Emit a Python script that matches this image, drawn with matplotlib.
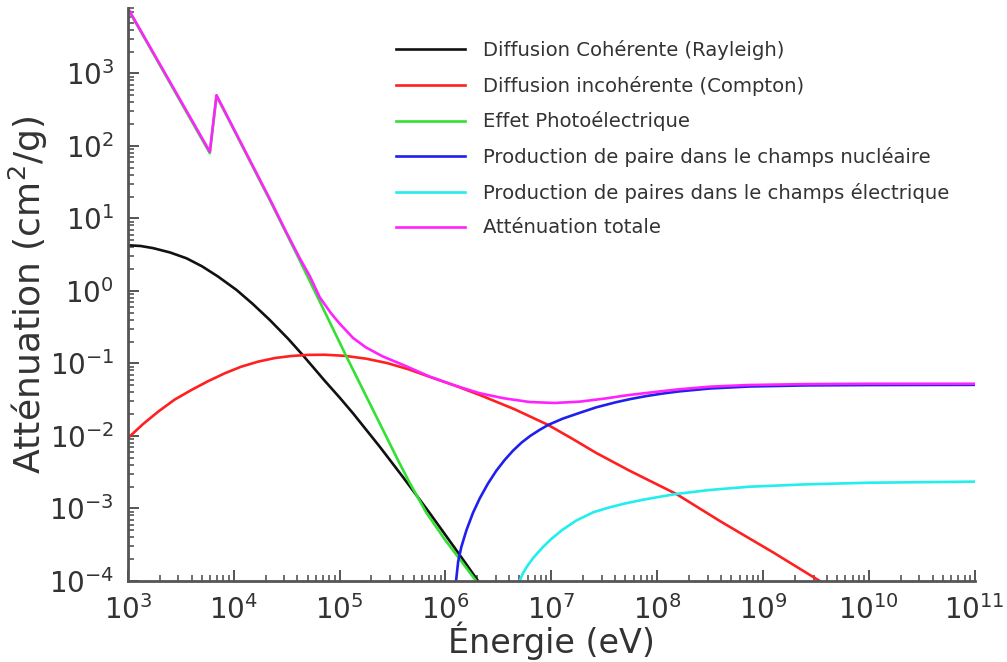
import numpy as np
import matplotlib.pyplot as plt

plt.rcParams["axes.unicode_minus"] = False

# log10 of photon energy (eV) and log10 of mass attenuation (cm^2/g)
rayleigh_logE = [3.0, 3.12, 3.24, 3.4, 3.554, 3.7, 3.85, 4.026, 4.18, 4.34, 4.514, 4.655,
                 4.86, 5.0, 5.128, 5.38, 5.6, 5.852, 6.1, 6.308]
rayleigh_logmu = [0.63, 0.62, 0.59, 0.53, 0.45, 0.34, 0.20, 0.014, -0.18, -0.40, -0.66, -0.89,
                  -1.24, -1.47, -1.69, -2.15, -2.57, -3.066, -3.57, -4.0]

compton_logE = [3.0, 3.14, 3.286, 3.44, 3.6, 3.75, 3.916, 4.07, 4.23, 4.39, 4.546, 4.7, 4.86,
                5.05, 5.254, 5.45, 5.65, 5.852, 6.08, 6.324, 6.65, 6.97, 7.2, 7.425, 7.74,
                8.18, 8.6, 9.1, 9.535]
compton_logmu = [-2.03, -1.84, -1.665, -1.50, -1.366, -1.25, -1.135, -1.045, -0.975, -0.925,
                 -0.897, -0.882, -0.880, -0.895, -0.935, -0.995, -1.08, -1.185, -1.30, -1.435,
                 -1.63, -1.848, -2.04, -2.235, -2.48, -2.80, -3.18, -3.61, -4.0]

photo_logE = [3.0, 3.774, 3.837, 4.34, 4.624, 5.065, 5.38, 5.55, 5.663, 5.82, 6.0, 6.135, 6.29]
photo_logmu = [3.89, 1.90, 2.69, 1.255, 0.42, -0.906, -1.83, -2.33, -2.65, -3.06, -3.44,
               -3.70, -4.0]

nuclear_logE = [6.10, 6.12, 6.15, 6.198, 6.26, 6.324, 6.40, 6.48, 6.56, 6.64, 6.72, 6.80,
                6.885, 6.97, 7.11, 7.27, 7.425, 7.61, 7.75, 7.897, 8.05, 8.21, 8.5, 8.87,
                9.4, 10.0, 11.0]
nuclear_logmu = [-4.0, -3.73, -3.53, -3.30, -3.06, -2.86, -2.66, -2.48, -2.33, -2.20, -2.09,
                 -2.00, -1.92, -1.848, -1.76, -1.68, -1.605, -1.535, -1.49, -1.45, -1.415,
                 -1.385, -1.345, -1.318, -1.303, -1.298, -1.295]

electron_logE = [6.70, 6.73, 6.77, 6.83, 6.922, 7.0, 7.1, 7.237, 7.4, 7.55, 7.7, 7.866, 8.0,
                 8.18, 8.496, 8.87, 9.4, 10.0, 11.0]
electron_logmu = [-4.0, -3.90, -3.80, -3.68, -3.53, -3.42, -3.30, -3.165, -3.05, -2.985, -2.93,
                  -2.88, -2.845, -2.80, -2.745, -2.70, -2.668, -2.645, -2.63]

total_logE = [3.0, 3.774, 3.837, 4.34, 4.5, 4.624, 4.72, 4.813, 4.92, 5.0, 5.128, 5.25, 5.41,
              5.6, 5.852, 6.08, 6.324, 6.55, 6.796, 7.03, 7.268, 7.5, 7.74, 8.0, 8.21, 8.5,
              8.87, 9.4, 10.0, 11.0]
total_logmu = [3.90, 1.92, 2.70, 1.27, 0.80, 0.45, 0.20, -0.09, -0.31, -0.45, -0.65, -0.78,
               -0.905, -1.02, -1.182, -1.30, -1.411, -1.48, -1.532, -1.545, -1.527, -1.485,
               -1.434, -1.39, -1.356, -1.32, -1.297, -1.285, -1.28, -1.28]

series = [
    (rayleigh_logE, rayleigh_logmu, "#111111", "Diffusion Cohérente (Rayleigh)"),
    (compton_logE, compton_logmu, "#ff2020", "Diffusion incohérente (Compton)"),
    (photo_logE, photo_logmu, "#33e033", "Effet Photoélectrique"),
    (nuclear_logE, nuclear_logmu, "#2020ee", "Production de paire dans le champs nucléaire"),
    (electron_logE, electron_logmu, "#22eeee", "Production de paires dans le champs électrique"),
    (total_logE, total_logmu, "#ff22ff", "Atténuation totale"),
]

fig = plt.figure(figsize=(10.07, 6.62), dpi=100)
ax = fig.add_axes([0.127, 0.1224, 0.841, 0.8656])

for logE, logmu, color, label in series:
    ax.plot(10.0 ** np.array(logE), 10.0 ** np.array(logmu), color=color, lw=1.9,
            label=label, solid_joinstyle="round")

ax.set_xscale("log")
ax.set_yscale("log")
ax.set_xlim(1e3, 1e11)
ax.set_ylim(1e-4, 8e3)
ax.set_xticks([10.0 ** k for k in range(3, 12)])
ax.set_yticks([10.0 ** k for k in range(-4, 4)])

for side in ("top", "right"):
    ax.spines[side].set_visible(False)
for side in ("left", "bottom"):
    ax.spines[side].set_color("#555555")
    ax.spines[side].set_linewidth(2.0)

ax.tick_params(which="major", direction="in", length=8, width=1.4, color="#555555",
               labelsize=20, pad=10, labelcolor="#333333")
ax.tick_params(which="minor", direction="in", length=4, width=1.2, color="#555555")

ax.set_xlabel("Énergie (eV)", fontsize=24, color="#333333", labelpad=-2)
ax.set_ylabel("Atténuation (cm$^2$/g)", fontsize=26, color="#333333", labelpad=-1)

ax.legend(loc="upper left", bbox_to_anchor=(0.3755, 0.966), bbox_transform=fig.transFigure,
          frameon=False, fontsize=14.1, handlelength=3.55, handletextpad=0.9,
          labelspacing=0.8, labelcolor="#333333")

fig.savefig("out.png", dpi=100)
